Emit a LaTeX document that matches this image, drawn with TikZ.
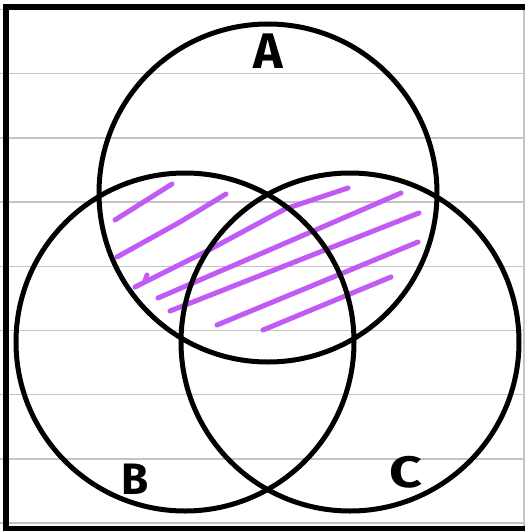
\documentclass[tikz,border=0pt]{standalone}
\usepackage{fontspec}
\newfontfamily\handfont{Fira Sans}
\usepackage{xcolor}
\usepackage{tikz}
\usetikzlibrary{positioning}

\definecolor{hatchpurple}{RGB}{192,92,245}
\definecolor{rulegray}{RGB}{202,194,194}

\begin{document}
\begin{tikzpicture}[
    x=0.5pt,
    y=-0.5pt,
    vennset/.style={
        circle,
        draw=black,
        line width=2.5pt,
        minimum size=169pt,
        inner sep=0pt
    },
    setlabel/.style={
        font=\handfont\bfseries\fontsize{22}{22}\selectfont,
        inner sep=0pt
    },
    ruled/.style={
        draw=rulegray,
        line width=0.75pt
    },
    hatch/.style={
        draw=hatchpurple,
        line width=2.5pt,
        line cap=round,
        line join=round
    }
]

\useasboundingbox (0,0) rectangle (525,531);

% ============================================================
% RULED PAPER
% ============================================================

\foreach \k in {0,...,8}
    \draw[ruled] (0,9.5+64.2*\k) -- (525,9.5+64.2*\k);

\draw[ruled] (524,9.5) -- (524,529);

% ============================================================
% HATCHING OF A INTERSECT (B UNION C)
% ============================================================

\draw[hatch] (115,220) -- (172,184);
\draw[hatch] (117,257) -- (180,222) -- (226,194);
\draw[hatch] (147,275) -- (145,281);
\draw[hatch] (135,287) -- (207,251) -- (285,209) -- (348,188);
\draw[hatch] (158,298) -- (267,251) -- (401,193);
\draw[hatch] (170,311) -- (419,213);
\draw[hatch] (217,325) -- (418,242);
\draw[hatch] (263,330) -- (391,277);

% ============================================================
% UNIVERSAL SET AND SETS
% ============================================================

\draw[black, line width=2.8pt, line join=miter]
    (525,6.7) -- (6,6.7) -- (6,529) -- (525,529);

\node[vennset] (setA) at (268,193) {};
\node[vennset] (setB) at (185,342) {};
\node[vennset] (setC) at (350,342) {};

% Labels
\node[
    setlabel,
    font=\handfont\bfseries\fontsize{25}{25}\selectfont
]
    (labA) at (268,51) {A};

\node[setlabel] (labB) at (135,479) {B};

\node[setlabel, xscale=1.3] (labC) at (406,472) {C};

\end{tikzpicture}
\end{document}
